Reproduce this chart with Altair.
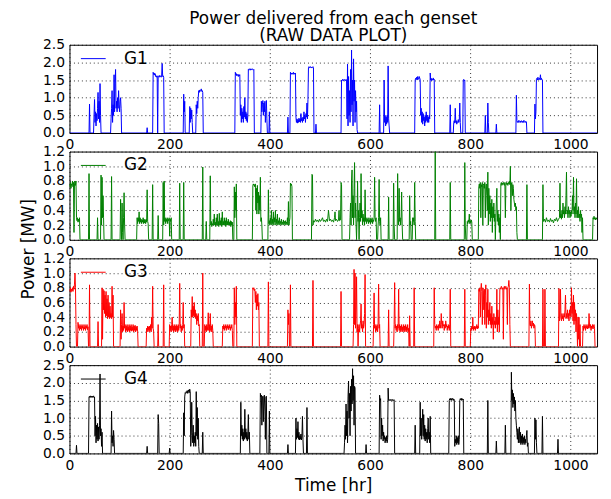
import altair as alt
import pandas as pd

X_MAX = 1053
X_TICKS = [0, 200, 400, 600, 800, 1000]
Y_TICKS_BIG = [0.0, 0.5, 1.0, 1.5, 2.0, 2.5]
Y_TICKS_SMALL = [0.0, 0.2, 0.4, 0.6, 0.8, 1.0, 1.2]
NAMES = ["G1", "G2", "G3", "G4"]
COLORS = ["#0000ff", "#008000", "#ff0000", "#000000"]

# (time [hr], power [MW]) samples
g1 = [(0,0),(39,0),(40,0.82),(41,0),
(48,0),(49,0.5),(50,0.95),(51,0.3),(52,0.6),(53,0.2),(54,0.55),(55,0.35),(56,0.7),(57,1.15),(58,0.4),(59,0.9),(60,0.3),(61,1.4),(62,0.5),(63,0),
(82,0),(83,0.4),(84,0.7),(85,1.2),(86,0.3),(87,0.8),(88,0.5),(89,1.65),(90,0.6),(91,1.4),(92,1.8),(93,0.7),(94,0.9),(95,0.6),(96,1.0),(97,0.7),(98,1.2),(99,0.8),(100,0.6),(101,0.9),(102,1.0),(103,0.7),(104,0),
(154,0),(155,0.15),(156,0),
(166,0),(167,1.72),(168,1.66),(169,1.7),(170,1.64),(171,1.68),(172,1.6),(173,1.62),(174,1.58),(175,1.62),(176,0),(177,1.6),(178,1.62),(179,1.58),(180,1.63),(181,1.6),(182,1.62),(183,1.58),(184,1.64),(185,1.97),(186,1.6),(187,1.62),(188,1.58),(189,0),
(227,0),(228,1.1),(229,0.6),(230,0.9),(231,0),
(239,0),(240,0.75),(241,0.3),(242,0.7),(243,0.4),(244,0.65),(245,0.3),(246,0),
(252,0),(253,0.8),(254,0.55),(255,0.9),(256,0.7),(257,1.0),(258,1.2),(259,1.15),(260,1.22),(261,1.18),(262,1.2),(263,1.25),(264,1.18),(265,1.2),(266,1.15),(267,0),
(330,0),(331,1.72),(332,1.65),(333,1.68),(334,1.62),(335,1.66),(336,1.64),(337,1.6),(338,1.66),(339,1.62),(340,1.65),(341,0.5),(342,0.8),(343,0.3),(344,0.7),(345,0.4),(346,0.6),(347,0.3),(348,0.75),(349,0.45),(350,1.0),(351,0.4),(352,0.6),(353,0.35),(354,0.55),(355,0.3),(356,0.5),(357,1.8),(358,1.78),(359,1.82),(360,1.8),(361,1.78),(362,1.82),(363,1.8),(364,1.79),(365,1.82),(366,1.8),(367,1.78),(368,1.8),(369,0),
(382,0),(383,0.9),(384,0.6),(385,0.8),(386,0.92),(387,0.5),(388,0.85),(389,0.6),(390,0.9),(391,0.3),(392,0.7),(393,0.92),(394,0.4),(395,0),(398,0),(399,0.6),(400,0),
(435,0),(436,0.45),(437,0),
(440,0),(441,1.72),(442,1.68),(443,1.7),(444,1.66),(445,1.7),(446,1.68),(447,1.72),(448,1.66),(449,1.7),(450,1.68),(451,1.7),(452,0.45),(453,0.3),(454,0.4),(455,0.28),(456,0.38),(457,0.3),(458,0.42),(459,0.32),(460,0.4),(461,0.3),(462,0.55),(463,0.35),(464,0.42),(465,0.3),(466,0.45),(467,0.35),(468,0.6),(469,0.4),(470,0.5),(471,0.3),(472,0.55),(473,0.45),(474,0.85),(475,0.4),(476,0.95),(477,1.85),(478,1.88),(479,1.84),(480,1.86),(481,1.88),(482,1.85),(483,1.87),(484,1.84),(485,1.86),(486,1.88),(487,1.85),(488,0),
(491,0),(492,0.25),(493,0),
(542,0),(543,1.5),(544,1.48),(545,1.52),(546,1.5),(547,1.48),(548,1.52),(549,1.5),(550,1.5),(551,1.48),(552,1.52),(553,1.5),(554,0.4),(555,1.95),(556,0.2),(557,1.6),(558,0.5),(559,1.2),(560,0.3),(561,1.8),(562,0.6),(563,2.35),(564,0.8),(565,1.5),(566,0.2),(567,2.1),(568,0.9),(569,1.5),(570,0.3),(571,1.2),(572,0.6),(573,0.9),(574,0.1),(575,0),
(618,0),(619,0.8),(620,0),
(627,0),(628,1.5),(629,0.3),(630,0.5),(631,0.2),(632,0.45),(633,0.25),(634,0.5),(635,0.3),(636,1.9),(637,0.4),(638,0.2),(639,0),
(689,0),(690,1.5),(691,1.55),(692,1.52),(693,1.58),(694,1.5),(695,1.6),(696,1.55),(697,1.52),(698,1.6),(699,1.56),(700,1.5),(701,0.5),(702,0.7),(703,0.3),(704,0.6),(705,0.25),(706,0.55),(707,0.35),(708,0.45),(709,0.2),(710,0.5),(711,0.3),(712,0.6),(713,0.35),(714,0.5),(715,0.3),(716,0.45),(717,0.3),(718,0.5),(719,0.4),(720,1.7),(721,1.5),(722,1.55),(723,1.48),(724,1.52),(725,1.5),(726,1.56),(727,1.5),(728,1.52),(729,0),
(759,0),(760,0.8),(761,0),
(766,0),(767,0.3),(768,0.35),(769,0.28),(770,0.7),(771,0.3),(772,0.35),(773,0.25),(774,0.32),(775,0.3),(776,0.38),(777,0.3),(778,0.35),(779,0.85),(780,0.3),(781,0),
(785,0),(786,1.5),(787,1.52),(788,1.48),(789,1.5),(790,0),
(829,0),(830,0.5),(831,0),(834,0),(835,0.85),(836,0.3),(837,0),
(851,0),(852,0.25),(853,0),
(891,0),(892,1.07),(893,0.35),(894,0.3),(895,0.33),(896,0.3),(897,0.36),(898,0.32),(899,0.3),(900,0.34),(901,0.3),(902,0.35),(903,0.32),(904,0.3),(905,0.34),(906,0.3),(907,0.36),(908,0.32),(909,0.3),(910,0.33),(911,0.3),(912,0.32),(913,0),
(928,0),(929,0.82),(930,0.4),(931,0.6),(932,1.52),(933,1.55),(934,1.5),(935,1.58),(936,1.52),(937,1.5),(938,1.55),(939,1.52),(940,1.65),(941,1.5),(942,1.55),(943,1.52),(944,1.5),(945,0),(1053,0)]

g2 = [(0,0.75),(1,0.72),(2,0.78),(3,0.7),(4,0.76),(5,0.74),(6,0.8),(7,0.72),(8,0.78),(9,0.1),(10,0.76),(11,0.8),(12,0.74),(13,0.8),(14,0.3),(15,0.26),(16,0.3),(17,0.24),(18,0.28),(19,0.25),(20,0.3),(21,0),
(38,0),(39,0.9),(40,0),
(55,0),(56,0.3),(57,0),(62,0),(63,0.88),(64,0.2),(65,0.85),(66,0.3),(67,0.6),(68,0.3),(69,0),
(83,0),(84,0.86),(85,0),
(101,0),(102,0.55),(103,0.2),(104,0),(105,0.5),(106,0.1),(107,0),(108,0.3),(109,0.64),(110,0.2),(111,0),
(134,0),(135,0.3),(136,0.22),(137,0.3),(138,0.25),(139,0.38),(140,0.22),(141,0.3),(142,0.24),(143,0.28),(144,0.22),(145,0.27),(146,0.24),(147,0.3),(148,0.22),(149,0.28),(150,0.23),(151,0.27),(152,0.22),(153,0.28),(154,0.24),(155,0.68),(156,0.25),(157,0.22),(158,0),
(165,0),(166,0.75),(167,0),(176,0),(177,0.33),(178,0),
(186,0),(187,0.78),(188,0.2),(189,0.8),(190,0.25),(191,0.3),(192,0.22),(193,0.28),(194,0.25),(195,0.3),(196,0.22),(197,0.28),(198,0.26),(199,0.3),(200,0.05),(201,0.28),(202,0.25),(203,0.3),(204,0),
(219,0),(220,0.77),(221,0),(227,0),(228,0.78),(229,0),
(265,0),(266,0.99),(267,0),(272,0),(273,0.25),(274,0),
(280,0),(281,0.87),(282,0.2),(283,0.25),(284,0.18),(285,0.22),(286,0.2),(287,0.28),(288,0.2),(289,0.35),(290,0.2),(291,0.24),(292,0.18),(293,0.3),(294,0.2),(295,0.35),(296,0.2),(297,0.25),(298,0.18),(299,0.36),(300,0.2),(301,0.26),(302,0.2),(303,0.3),(304,0.18),(305,0.38),(306,0.2),(307,0.25),(308,0.2),(309,0.3),(310,0.2),(311,0.26),(312,0.18),(313,0.3),(314,0.2),(315,0.25),(316,0.2),(317,0.28),(318,0.2),(319,0.24),(320,0.2),(321,0.26),(322,0.18),(323,0.25),(324,0.2),(325,0.24),(326,0),
(328,0),(329,0.72),(330,0.3),(331,0.65),(332,0.4),(333,0.76),(334,0),
(365,0),(366,0.74),(367,0.76),(368,0.74),(369,0.75),(370,0.72),(371,0.76),(372,0.4),(373,0.7),(374,0.35),(375,0.74),(376,0.5),(377,0.65),(378,0.35),(379,0.6),(380,0.4),(381,0.85),(382,0.25),(383,0.3),(384,0.2),(385,0),
(396,0),(397,0.68),(398,0.22),(399,0.26),(400,0.2),(401,0.3),(402,0.22),(403,0.4),(404,0.2),(405,0.28),(406,0.22),(407,0.38),(408,0.2),(409,0.3),(410,0.24),(411,0.4),(412,0.2),(413,0.28),(414,0.22),(415,0.35),(416,0.2),(417,0.26),(418,0.22),(419,0.3),(420,0.2),(421,0.25),(422,0.22),(423,0.28),(424,0.2),(425,0.24),(426,0.22),(427,0.27),(428,0.2),(429,0.25),(430,0.22),(431,0.26),(432,0.2),(433,0.24),(434,0.22),(435,0.3),(436,0.2),(437,0.52),(438,0.2),(439,0.25),(440,0.3),(441,0.77),(442,0.74),(443,0.76),(444,0.72),(445,0),
(483,0),(484,0.89),(485,0.88),(486,0.2),(487,0.26),(489,0.24),(491,0.28),(493,0.25),(495,0.27),(497,0.24),(499,0.28),(501,0.25),(503,0.27),(505,0.3),(507,0.25),(509,0.27),(511,0.24),(513,0.28),(515,0.25),(517,0.4),(519,0.26),(521,0.28),(523,0.25),(525,0.27),(527,0.24),(529,0.3),(530,0.38),(531,0.26),(533,0.28),(535,0.25),(537,0.27),(538,0.4),(539,0.26),(541,0.27),(542,0.78),(543,0.75),(544,0),
(559,0),(560,0.3),(561,0.5),(562,0.2),(563,0.8),(564,0.95),(565,0.3),(566,0.6),(567,0.2),(568,0.7),(569,1.05),(570,0.3),(571,0.5),(572,0.2),(573,0),(574,0.3),(575,0.8),(576,0.25),(577,0.4),(578,0),(579,0.3),(580,0.5),(581,0.25),(582,0.9),(583,0.3),(584,0.4),(585,0.2),(586,0.35),(587,0.25),(588,0.3),(589,0.2),(590,0.68),(591,0.25),(592,0.3),(593,0.22),(594,0.28),(595,0.25),(596,0.3),(597,0.22),(598,0.27),(599,0.24),(600,0.3),(601,0.22),(602,0.28),(603,0.24),(604,0.3),(605,0.22),(606,0.27),(607,0.25),(608,0.3),(609,0.85),(610,0.3),(611,0.25),(612,0.3),(613,0),
(615,0),(616,0.2),(617,0.3),(618,0.82),(619,0.25),(620,0.2),(621,0.3),(622,0),
(636,0),(637,0.58),(638,0),
(646,0),(647,0.77),(648,0.2),(649,0),(654,0),(655,0.9),(656,0.3),(657,0.2),(658,0.7),(659,0.25),(660,0.3),(661,0.2),(662,0.3),(663,0.65),(664,0.2),(665,0),
(678,0),(679,0.6),(680,0.2),(681,0.25),(682,0),
(684,0),(685,0.3),(686,0.25),(687,0.3),(688,0.2),(689,0.78),(690,0.25),(691,0),
(729,0),(730,1.2),(731,0),
(759,0),(760,0.78),(761,0),
(788,0),(789,1.05),(790,0.2),(791,0),
(793,0),(794,0.25),(795,0.22),(796,0.27),(797,0.24),(798,0.35),(799,0.22),(800,0.26),(801,0.23),(802,0.27),(803,0.24),(804,0),
(816,0),(817,0.72),(818,0.76),(819,0.7),(820,0.78),(821,0.3),(822,0.75),(823,0.72),(824,0.78),(825,0.2),(826,0.74),(827,0.76),(828,0.7),(829,0.78),(830,0.3),(831,0.72),(832,0.76),(833,0.6),(834,0.4),(835,0.92),(836,0.2),(837,0.7),(838,0.35),(839,0.6),(840,0.25),(841,0.5),(842,0.3),(843,0.55),(844,0.1),(845,0.45),(846,0.3),(847,0.5),(848,0.25),(849,0.35),(850,0),(851,0.3),(852,0.5),(853,0.7),(854,0.25),(855,0.4),(856,0.2),(857,0.35),(858,0.1),(859,0.3),(860,0),(861,0.76),(862,0.78),(863,0.74),(864,0.77),(865,0.75),(866,0.78),(867,0.76),(868,0.74),(869,0.78),(870,0.3),(871,0.76),(872,0.78),(873,0.75),(874,0.77),(875,0.74),(876,0.78),(877,0.76),(878,0.8),(879,0.75),(880,1.0),(881,0.4),(882,0.76),(883,0.78),(884,0.6),(885,0.75),(886,0.7),(887,0.55),(888,0.5),(889,0.45),(890,0.5),(891,0.4),(892,0.45),(893,0.1),(894,0),
(912,0),(913,0.75),(914,0),
(944,0),(945,0.75),(946,0.25),(948,0.28),(950,0.24),(952,0.3),(954,0.25),(956,0.27),(958,0.24),(960,0.29),(962,0.25),(964,0.27),(966,0.23),(968,0.28),(970,0.26),(972,0.3),(974,0.25),(976,0.28),(978,0.3),(979,0.77),(980,0.3),(981,0.35),(982,0.28),(983,0.4),(984,0.3),(985,0.5),(986,0.35),(987,0.4),(988,0.3),(989,0.45),(990,0.35),(991,0.6),(992,0.92),(993,0.35),(994,0.4),(995,0.3),(996,0.45),(997,0.35),(998,0.4),(999,0.3),(1000,0.38),(1001,0.32),(1002,0.4),(1003,0.35),(1004,0.6),(1005,0.4),(1006,0.85),(1007,0.35),(1008,0.45),(1009,0.3),(1010,0.5),(1011,0.35),(1012,0.83),(1013,0.3),(1014,0.4),(1015,0.3),(1016,0.45),(1017,0.3),(1018,0.35),(1019,0.25),(1020,0.4),(1021,0.3),(1022,0.35),(1023,0.1),(1024,0.3),(1025,0),
(1044,0),(1045,0.3),(1046,0.28),(1047,0.32),(1048,0.28),(1049,0.3),(1050,0.27),(1051,0.3),(1052,0.28),(1053,0.3)]

g3 = [(0,0.78),(1,0.75),(2,0.8),(3,0.74),(4,0.78),(5,0.76),(6,0.8),(7,0.75),(8,0.82),(9,0.78),(10,0.85),(11,1.0),(12,0.8),(13,0.3),(14,0),
(16,0),(17,0.33),(18,0.25),(19,0.3),(20,0.22),(21,0.28),(22,0.24),(23,0.3),(24,0.22),(25,0.28),(26,0.25),(27,0.3),(28,0.22),(29,0.27),(30,0.24),(31,0.3),(32,0.22),(33,0.28),(34,0.25),(35,0.3),(36,0.23),(37,0.27),(38,0),
(39,0),(40,0.84),(41,0),
(56,0),(57,0.34),(58,0),
(64,0),(65,0.8),(66,0.1),(67,0.78),(68,0.5),(69,0.76),(70,0.45),(71,0.7),(72,0.4),(73,0.75),(74,0.42),(75,0.65),(76,0.38),(77,0.7),(78,0.4),(79,0.6),(80,0.38),(81,0.55),(82,0.4),(83,0.45),(84,0.38),(85,0.82),(86,0.4),(87,0.7),(88,0),
(101,0),(102,0.5),(103,0.1),(104,0.3),(105,0.45),(106,0.2),(107,0.28),(108,0.22),(109,0.6),(110,0.25),(111,0.3),(112,0.2),(113,0.28),(114,0.22),(115,0.3),(116,0.2),(117,0.27),(118,0.22),(119,0.3),(120,0.2),(121,0.28),(122,0.22),(123,0.3),(124,0.21),(125,0.27),(126,0.22),(127,0.3),(128,0.2),(129,0.28),(130,0.22),(131,0.29),(132,0.2),(133,0.27),(134,0.22),(135,0.28),(136,0.21),(137,0),
(153,0),(154,0.25),(155,0.2),(156,0.28),(157,0.22),(158,0.27),(159,0.2),(160,0.28),(161,0.22),(162,0.3),(163,0.2),(164,0.4),(165,0.25),(166,0.82),(167,0.25),(168,0.2),(169,0),
(176,0),(177,0.3),(178,0),
(187,0),(188,0.84),(189,0),
(199,0),(200,0.3),(201,0.22),(202,0.28),(203,0.2),(204,0.3),(205,0.4),(206,0.22),(207,0.28),(208,0.2),(209,0.3),(210,0.22),(211,0.28),(212,0.2),(213,0.3),(214,0.22),(215,0.28),(216,0.2),(217,0.3),(218,0.22),(219,0.3),(220,0.86),(221,0.25),(222,0.3),(223,0.2),(224,0.28),(225,0.22),(226,0.3),(227,0.6),(228,0.25),(229,0.3),(230,0),
(242,0),(243,0.5),(244,0.4),(245,0.68),(246,0.4),(247,0.55),(248,0.42),(249,0.6),(250,0.4),(251,0.5),(252,0.38),(253,0.45),(254,0.3),(255,0.42),(256,0.35),(257,0.45),(258,0.28),(259,0.3),(260,0),
(265,0),(266,1.0),(267,0),
(269,0),(270,0.3),(271,0.22),(272,0.28),(273,0.2),(274,0.3),(275,0.22),(276,0.28),(277,0.46),(278,0.22),(279,0.3),(280,0.2),(281,0.45),(282,0.22),(283,0.28),(284,0.2),(285,0.3),(286,0.22),(287,0),
(305,0),(306,0.28),(307,0.24),(308,0.3),(309,0.22),(310,0.28),(311,0.25),(312,0.3),(313,0.22),(314,0.28),(315,0.25),(316,0.3),(317,0.23),(318,0.28),(319,0.25),(320,0.3),(321,0.22),(322,0.27),(323,0.25),(324,0.3),(325,0.22),(326,0),(328,0),(329,0.8),(330,0.3),(331,0.6),(332,0.4),(333,0.82),(334,0),
(365,0),(366,0.8),(367,0.78),(368,0.8),(369,0.76),(370,0.78),(371,0.6),(372,0.75),(373,0.5),(374,0.7),(375,0.55),(376,0.72),(377,0.5),(378,0.6),(379,0),
(396,0),(397,0.88),(398,0),
(435,0),(436,0.5),(437,0.3),(438,0.45),(439,0),(440,0),(441,0.84),(442,0),
(485,0),(486,0.9),(487,0),
(541,0),(542,0.75),(543,0),
(566,0),(567,0.3),(568,1.05),(569,0.3),(570,1.0),(571,0.25),(572,0.5),(573,0.95),(574,0.2),(575,0.3),(576,0),(577,0.25),(578,0.3),(579,0.2),(580,0.28),(581,0.35),(582,0.58),(583,0.25),(584,0.3),(585,0.2),(586,0.35),(587,0.25),(588,0.3),(589,0.45),(590,0.98),(591,0),
(606,0),(607,0.3),(608,0.73),(609,0.25),(610,0.3),(611,0.2),(612,0.28),(613,0.22),(614,0.3),(615,0.2),(616,0.3),(617,0.85),(618,0.25),(619,0.3),(620,0),
(636,0),(637,0.5),(638,0),
(647,0),(648,0.3),(649,0.87),(650,0.25),(651,0.3),(652,0.22),(653,0.28),(654,0.2),(655,0.3),(656,0.25),(657,0.78),(658,0.22),(659,0.3),(660,0.2),(661,0.28),(662,0.22),(663,0.3),(664,0.2),(665,0.27),(666,0.22),(667,0.3),(668,0.2),(669,0.28),(670,0.22),(671,0.3),(672,0.2),(673,0.27),(674,0.22),(675,0.3),(676,0.2),(677,0.25),(678,0),(679,0.42),(680,0),
(687,0),(688,0.8),(689,0),
(727,0),(728,0.8),(729,0.3),(730,0.25),(731,0.28),(732,0.22),(733,0.3),(734,0.25),(735,0.28),(736,0.22),(737,0.3),(738,0.25),(739,0.35),(740,0.3),(741,0.25),(742,0.45),(743,0.3),(744,0.25),(745,0.35),(746,0.28),(747,0.3),(748,0.22),(749,0.3),(750,0.25),(751,0.35),(752,0.27),(753,0.3),(754,0.22),(755,0.28),(756,0.25),(757,0.3),(758,0.22),(759,0.3),(760,0.78),(761,0),
(788,0),(789,0.78),(790,0),
(800,0),(801,0.25),(802,0.22),(803,0.28),(804,0.24),(805,0.4),(806,0.22),(807,0.27),(808,0.24),(809,0.28),(810,0.22),(811,0.27),(812,0.25),(813,0.3),(814,0.24),(815,0.28),(816,0.25),
(817,0.78),(818,0.75),(819,0.8),(820,0.4),(821,0.78),(822,0.86),(823,0.75),(824,0.3),(825,0.8),(826,0.76),(827,0.5),(828,0.78),(829,0.3),(830,0.7),(831,0.84),(832,0.25),(833,0.6),(834,0.4),(835,0.78),(836,0.3),(837,0.5),(838,0.35),(839,0.6),(840,0.3),(841,0.45),(842,0.25),(843,0.55),(844,0.3),(845,0.4),(846,0.1),(847,0.45),(848,0.3),(849,0.35),(850,0.25),(851,0.4),(852,0.3),(853,0.78),(854,0.2),(855,0.5),(856,0.3),(857,0.4),(858,0.2),(859,0.78),(860,0.8),(861,0.78),(862,0.82),(863,0.8),(864,0.78),(865,0.8),(866,0.1),(867,0.8),(868,0.82),(869,0.78),(870,0.8),(871,0.82),(872,0.78),(873,0.8),(874,0.3),(875,0.8),(876,0.82),(877,0.9),(878,0.8),(879,0.3),(880,0),
(917,0),(918,0.85),(919,0.3),(920,0.28),(921,0.35),(922,0.25),(923,0.3),(924,0.35),(925,0.28),(926,0.32),(927,0.25),(928,0.3),(929,0.28),(930,0),
(944,0),(945,0.78),(946,0),(948,0),(949,0.78),(950,0),
(976,0),(977,0.79),(978,0.35),(979,0.4),(980,0.78),(981,0.4),(982,0.35),(983,0.45),(984,0.38),(985,0.42),(986,0.35),(987,0.45),(988,0.4),(989,0.5),(990,0.7),(991,0.38),(992,0.45),(993,0.4),(994,0.5),(995,0.38),(996,0.45),(997,0.35),(998,0.5),(999,0.42),(1000,0.55),(1001,0.4),(1002,0.8),(1003,0.45),(1004,0.6),(1005,0.35),(1006,0.7),(1007,0.3),(1008,0.6),(1009,0.35),(1010,0.5),(1011,0.2),(1012,0.45),(1013,0.3),(1014,0),(1015,0.4),(1016,0.1),(1017,0.4),(1018,0),(1019,0.3),(1020,0),
(1024,0),(1025,0.28),(1026,0.22),(1027,0.3),(1028,0.25),(1029,0.28),(1030,0.22),(1031,0.3),(1032,0.25),(1033,0.28),(1034,0.24),(1035,0.3),(1036,0.25),(1037,0.45),(1038,0.28),(1039,0.25),(1040,0.3),(1041,0.22),(1042,0.28),(1043,0.25),(1044,0.3),(1045,0.24),(1046,0.28),(1047,0.3),(1048,0.25),(1049,0),(1053,0)]

g4 = [(0,0),(13,0),(14,0.23),(15,0),
(38,0),(39,1.6),(40,1.62),(41,1.58),(42,1.63),(43,1.6),(44,1.62),(45,1.58),(46,1.62),(47,1.6),(48,1.63),(49,1.58),(50,1.6),(51,0.5),(52,1.05),(53,0.3),(54,0.8),(55,0.4),(56,0.85),(57,0.35),(58,0.75),(59,0.4),(60,0.8),(61,2.25),(62,0.5),(63,0.7),(64,0.2),(65,0.6),(66,0),
(83,0),(84,1.2),(85,0.3),(86,0.5),(87,0.2),(88,0.65),(89,0.4),(90,0),
(154,0),(155,0.2),(156,0),
(176,0),(177,1.1),(178,0.85),(179,0),
(199,0),(200,0.15),(201,0),
(227,0),(228,1.15),(229,0.5),(230,1.6),(231,1.72),(232,1.7),(233,1.75),(234,1.72),(235,1.78),(236,1.7),(237,1.75),(238,1.8),(239,1.72),(240,1.82),(241,1.75),(242,0.2),(243,0.5),(244,1.45),(245,0.6),(246,0.3),(247,0.8),(248,0.2),(249,0.5),(250,0.3),(251,0.6),(252,0.2),(253,1.75),(254,0.5),(255,1.3),(256,0.4),(257,1.0),(258,0.2),(259,0),
(265,0),(266,0.6),(267,0),
(341,0),(342,1.45),(343,0.5),(344,0.8),(345,0.4),(346,0.7),(347,0.35),(348,0.6),(349,0.4),(350,1.25),(351,0.45),(352,0.7),(353,0.4),(354,0.6),(355,0.35),(356,0.55),(357,1.1),(358,0.4),(359,0.6),(360,0),
(380,0),(381,1.7),(382,1.6),(383,1.65),(384,0.8),(385,1.6),(386,1.62),(387,0.9),(388,1.6),(389,1.65),(390,1.2),(391,0.4),(392,1.6),(393,1.62),(394,0),(398,0),(399,1.2),(400,0),
(435,0),(436,0.25),(437,0),
(451,0),(452,1.0),(453,0.4),(454,0.7),(455,0.45),(456,0.9),(457,0.4),(458,0.6),(459,0.38),(460,0.5),(461,0.4),(462,0.55),(463,0.38),(464,0.5),(465,1.05),(466,0.4),(467,0),(473,0),(474,1.3),(475,0),
(548,0),(549,0.3),(550,0.8),(551,0.4),(552,1.4),(553,0.5),(554,1.2),(555,0.3),(556,1.6),(557,2.05),(558,1.0),(559,1.7),(560,0.5),(561,1.9),(562,1.2),(563,2.1),(564,1.4),(565,2.4),(566,1.5),(567,2.2),(568,0.8),(569,1.9),(570,1.85),(571,0),
(591,0),(592,0.25),(593,0),
(618,0),(619,1.65),(620,1.5),(621,1.55),(622,0.4),(623,1.0),(624,0.5),(625,0.8),(626,0.35),(627,0.6),(628,0.4),(629,0.5),(630,0.3),(631,0.45),(632,0.35),(633,0.5),(634,0.3),(635,0.4),(636,1.85),(637,1.5),(638,1.52),(639,1.5),(640,1.53),(641,1.5),(642,1.52),(643,1.5),(644,1.53),(645,1.5),(646,1.52),(647,1.5),(648,1.52),(649,0),
(689,0),(690,0.8),(691,0),
(699,0),(700,1.45),(701,0.5),(702,1.0),(703,0.4),(704,0.8),(705,1.25),(706,0.5),(707,1.1),(708,0.4),(709,0.8),(710,0.35),(711,0.7),(712,0.4),(713,0.6),(714,0.3),(715,0.7),(716,1.0),(717,0.4),(718,0.6),(719,0.3),(720,1.05),(721,0),
(757,0),(758,1.5),(759,1.55),(760,1.52),(761,1.56),(762,1.5),(763,1.55),(764,1.53),(765,1.56),(766,1.5),(767,1.54),(768,1.52),(769,0.2),(770,0.4),(771,0.3),(772,0.5),(773,0.25),(774,0.45),(775,0.3),(776,0.5),(777,0.25),(778,0.4),(779,1.5),(780,1.55),(781,1.52),(782,1.56),(783,1.5),(784,1.55),(785,1.52),(786,1.54),(787,0),
(834,0),(835,1.5),(836,0),
(851,0),(852,0.35),(853,0),
(869,0),(870,0.8),(871,0),
(881,0),(882,2.3),(883,1.5),(884,1.8),(885,1.3),(886,1.7),(887,1.4),(888,1.6),(889,1.2),(890,1.5),(891,1.0),(892,0.8),(893,0.6),(894,0.4),(895,0.7),(896,0.3),(897,0.6),(898,0.75),(899,0.3),(900,0.6),(901,0.25),(902,0.5),(903,0.3),(904,0.55),(905,0.25),(906,0.45),(907,0.3),(908,0.5),(909,0.25),(910,0.4),(911,0.3),(912,0.5),(913,0.65),(914,0.2),(915,0.3),(916,0),
(928,0),(929,1.0),(930,0.4),(931,0.95),(932,0.3),(933,0),
(943,0),(944,1.05),(945,0),
(974,0),(975,0.4),(976,0),(1053,0)]

SERIES = [g1, g2, g3, g4]
Y_MAX = [2.5, 1.2, 1.2, 2.5]
Y_TICKS = [Y_TICKS_BIG, Y_TICKS_SMALL, Y_TICKS_SMALL, Y_TICKS_BIG]

FONT = "DejaVu Sans"
W, H = 532, 89


def panel(k):
    pts = SERIES[k]
    df = pd.DataFrame({"t": [p[0] for p in pts], "v": [p[1] for p in pts]})
    df["i"] = range(len(df))
    df["s"] = NAMES[k]

    xaxis = dict(values=X_TICKS, format="d", labelFlush=False, labelOverlap=False,
                 title=None)
    if k == 3:
        xaxis.update(title="Time [hr]", titleX=W / 2, titleY=37,
                     titleBaseline="alphabetic", titleAlign="center")
    yaxis = dict(values=Y_TICKS[k], format=".1f", labelFlush=False,
                 labelOverlap=False, title=None)
    if k == 1:
        yaxis.update(title="Power [MW]", titleX=-36, titleY=98, titleAngle=270,
                     titleBaseline="alphabetic", titleAlign="center")

    legend = alt.Legend(title=None, orient="none", legendX=11, legendY=1,
                        symbolType="stroke", symbolSize=625, symbolStrokeWidth=1,
                        labelFontSize=17, labelFont=FONT, labelColor="black",
                        labelOffset=18, padding=0)

    return alt.Chart(df).mark_line(strokeWidth=1, clip=True).encode(
        x=alt.X("t:Q", scale=alt.Scale(domain=[0, X_MAX], nice=False, zero=True),
                axis=alt.Axis(**xaxis)),
        y=alt.Y("v:Q", scale=alt.Scale(domain=[0, Y_MAX[k]], nice=False),
                axis=alt.Axis(**yaxis)),
        color=alt.Color("s:N", scale=alt.Scale(domain=[NAMES[k]], range=[COLORS[k]]),
                        legend=legend),
        order=alt.Order("i:Q"),
    ).properties(width=W, height=H)


chart = alt.vconcat(*[panel(k) for k in range(4)], spacing=18.7, bounds="flush").resolve_scale(
    color="independent", x="independent", y="independent"
).resolve_legend(color="independent").properties(
    title=alt.TitleParams(["Power delivered from each genset", "(RAW DATA PLOT)"],
                          fontSize=17, fontWeight="normal", font=FONT, color="black",
                          anchor="middle", frame="group", lineHeight=17, offset=-8),
    padding={"left": 11, "top": 0, "right": 5, "bottom": 2},
).configure(font=FONT).configure_view(stroke="black", strokeWidth=1).configure_axis(
    grid=True, gridColor="black", gridDash=[1, 3], gridOpacity=0.8, gridWidth=1,
    domain=False, ticks=False, labelPadding=5, labelFontSize=14, labelFont=FONT,
    labelColor="black", titleFontSize=17, titleFont=FONT, titleFontWeight="normal",
    titleColor="black",
)

chart.save("out.html", embed_options={"renderer": "svg", "actions": False})
